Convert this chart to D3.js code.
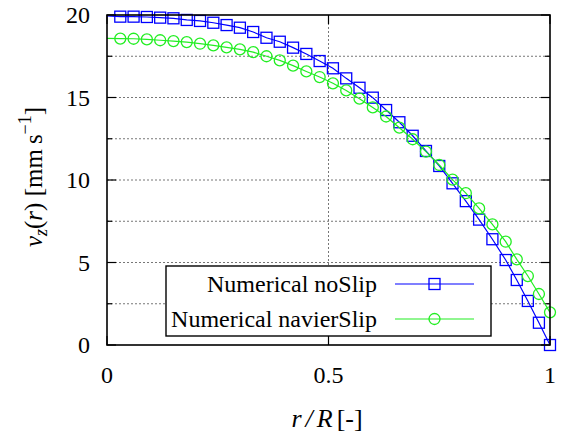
<!DOCTYPE html>
<html><head><meta charset="utf-8">
<script src="https://cdn.jsdelivr.net/npm/d3@7"></script>
<style>body{margin:0;background:#fff}</style></head>
<body>
<svg id="c" width="562" height="434" xmlns="http://www.w3.org/2000/svg"></svg>
<script>
// ---- data ----
const radius = [0, 0.03,0.06,0.09,0.12,0.15,0.18,0.21,0.24,0.27,0.30,0.33,0.36,0.39,0.42,0.45,0.48,0.51,0.54,0.57,0.60,0.63,0.66,0.69,0.72,0.75,0.78,0.81,0.84,0.87,0.90,0.925,0.95,0.975,1.0];
const noSlip = [19.95, 19.9,19.9,19.88,19.84,19.8,19.7,19.64,19.53,19.39,19.23,18.97,18.62,18.38,18.02,17.64,17.21,16.77,16.16,15.59,14.99,14.24,13.5,12.68,11.76,10.85,9.8,8.72,7.6,6.41,5.15,3.94,2.67,1.35,0.0];
const navierSlip = [18.58, 18.57,18.56,18.52,18.47,18.42,18.36,18.26,18.16,18.04,17.92,17.75,17.5,17.25,16.93,16.58,16.24,15.86,15.43,14.93,14.4,13.85,13.17,12.47,11.72,10.91,10.02,9.2,8.28,7.31,6.26,5.19,4.18,3.09,1.98];
const seriesNames = ["Numerical noSlip", "Numerical navierSlip"];
const xTicks = [0, 0.5, 1];
const xTickLabels = ["0", "0.5", "1"];
const xGrid = [0.5];
const yTicks = [0, 5, 10, 15, 20];
const yMinorTicks = [2.5, 7.5, 12.5, 17.5];

// ---- layout ----
const L = 107, R = 550, T = 15, B = 345;
const svg = d3.select("#c");
const x = d3.scaleLinear().domain([0, 1]).range([L, R]);
const y = d3.scaleLinear().domain([0, 20]).range([B, T]);
const FONT = '"Liberation Serif"';
const blue = "#0000ff", green = "#22ee22";

svg.append("rect").attr("width", 562).attr("height", 434).attr("fill", "#fff");

// grid
const grid = svg.append("g").attr("stroke", "#777").attr("stroke-width", 1).attr("stroke-dasharray", "2,2");
yTicks.concat(yMinorTicks).filter(v => v > 0 && v < 20).forEach(v => {
  grid.append("line").attr("x1", L).attr("x2", R).attr("y1", y(v)).attr("y2", y(v));
});
xGrid.forEach(v => {
  grid.append("line").attr("x1", x(v)).attr("x2", x(v)).attr("y1", T).attr("y2", B);
});

// ticks (mirrored)
const tk = svg.append("g").attr("stroke", "#000").attr("stroke-width", 1.2);
yTicks.forEach(v => {
  tk.append("line").attr("x1", L).attr("x2", L + 9).attr("y1", y(v)).attr("y2", y(v));
  tk.append("line").attr("x1", R).attr("x2", R - 9).attr("y1", y(v)).attr("y2", y(v));
});
yMinorTicks.forEach(v => {
  tk.append("line").attr("x1", L).attr("x2", L + 5).attr("y1", y(v)).attr("y2", y(v));
  tk.append("line").attr("x1", R).attr("x2", R - 5).attr("y1", y(v)).attr("y2", y(v));
});
xTicks.forEach(v => {
  tk.append("line").attr("x1", x(v)).attr("x2", x(v)).attr("y1", B).attr("y2", B - 9);
  tk.append("line").attr("x1", x(v)).attr("x2", x(v)).attr("y1", T).attr("y2", T + 9);
});

// tick labels
const yLab = svg.append("g");
yTicks.forEach(v => {
  yLab.append("text").attr("x", 90).attr("y", y(v) + 8)
    .attr("text-anchor", "end").attr("font-size", 24).style("font-family", FONT)
    .text(d3.format("d")(v));
});
const xLab = svg.append("g");
xTicks.forEach((v, i) => {
  xLab.append("text").attr("x", x(v)).attr("y", 383)
    .attr("text-anchor", "middle").attr("font-size", 24).style("font-family", FONT)
    .text(xTickLabels[i]);
});

// series
const series = [
  {name: seriesNames[0], values: noSlip, color: blue, marker: "square"},
  {name: seriesNames[1], values: navierSlip, color: green, marker: "circle"}
];
const line = d3.line().x(d => x(d[0])).y(d => y(d[1]));
function drawMarker(g, kind, cx, cy, color) {
  if (kind === "square") {
    g.append("rect").attr("x", cx - 5.5).attr("y", cy - 5.5).attr("width", 11).attr("height", 11)
      .attr("fill", "none").attr("stroke", color).attr("stroke-width", 1.3);
  } else {
    g.append("circle").attr("cx", cx).attr("cy", cy).attr("r", 5.5)
      .attr("fill", "none").attr("stroke", color).attr("stroke-width", 1.3);
  }
}
series.forEach(s => {
  const pts = radius.map((r, i) => [r, s.values[i]]);
  const g = svg.append("g");
  g.append("path").datum(pts).attr("d", line).attr("fill", "none")
    .attr("stroke", s.color).attr("stroke-width", 1.2);
  pts.filter(p => p[0] > 0).forEach(p => drawMarker(g, s.marker, x(p[0]), y(p[1]), s.color));
});

// frame
svg.append("rect").attr("x", L).attr("y", T).attr("width", R - L).attr("height", B - T)
  .attr("fill", "none").attr("stroke", "#000").attr("stroke-width", 1.6);

// legend
const lg = svg.append("g");
lg.append("rect").attr("x", 166).attr("y", 266).attr("width", 325).attr("height", 70)
  .attr("fill", "#fff").attr("stroke", "#000").attr("stroke-width", 1.4);
series.forEach((s, i) => {
  const cy = 284 + i * 35;
  lg.append("text").attr("x", 377).attr("y", cy + 8)
    .attr("text-anchor", "end").attr("font-size", 24).style("font-family", FONT).text(s.name);
  lg.append("line").attr("x1", 395).attr("x2", 474).attr("y1", cy).attr("y2", cy)
    .attr("stroke", s.color).attr("stroke-width", 1.2);
  drawMarker(lg, s.marker, 434.5, cy, s.color);
});

// x axis title: r/R [-]
const xt = svg.append("text").attr("x", 327).attr("y", 427)
  .attr("text-anchor", "middle").attr("font-size", 26).style("font-family", FONT);
xt.append("tspan").attr("font-style", "italic").attr("letter-spacing", 4).text("r/R");
xt.append("tspan").text("[-]");

// y axis title: v_z(r) [mm s^-1]
const yt = svg.append("text").attr("transform", "translate(42,177) rotate(-90)")
  .attr("text-anchor", "middle").attr("font-size", 25).style("font-family", FONT);
yt.append("tspan").attr("font-style", "italic").text("v");
yt.append("tspan").attr("font-style", "italic").attr("font-size", 18).attr("dy", 5).text("z");
yt.append("tspan").attr("dy", -5).text("(");
yt.append("tspan").attr("font-style", "italic").text("r");
yt.append("tspan").text(") [mm\u2009s");
yt.append("tspan").attr("font-size", 18).attr("dy", -11).text("\u22121");
yt.append("tspan").attr("dy", 11).text("]");
</script>
</body></html>
